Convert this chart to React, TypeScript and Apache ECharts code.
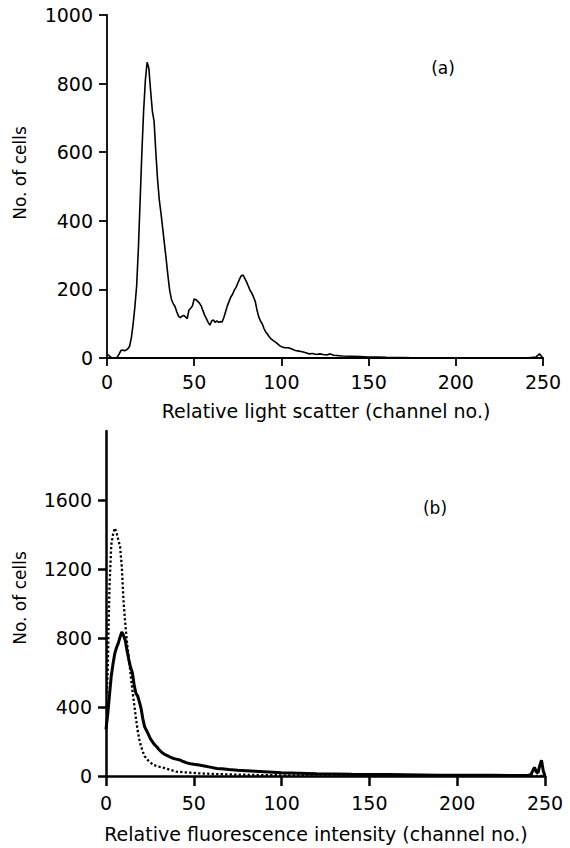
import React, { useEffect, useRef } from "react";
import * as echarts from "echarts";

// (a) light scatter histogram
const scatterChannels = [0,1,2,3,5,6,7,8,9,10,11,12,13,14,15,16,17,18,19,20,21,22,23,24,25,26,27,28,29,30,31,32,33,34,35,36,37,38,39,40,41,42,43,44,45,46,47,48,49,50,51,52,53,54,55,56,57,58,59,60,61,62,63,64,65,66,67,68,69,70,71,72,73,74,75,76,77,78,79,80,81,82,83,84,85,86,87,88,89,90,91,92,93,94,95,97,99,100,102,104,106,108,110,112,114,116,118,120,122,124,126,128,130,135,140,145,150,155,160,170,180,240,246,248,249,250];
const scatterCounts = [10,8,3,0,0,3,12,22,23,21,23,27,35,60,100,150,210,320,460,600,720,810,862,845,780,720,690,600,520,460,420,375,330,285,237,195,170,158,150,135,122,118,122,124,120,115,140,145,152,172,170,165,160,152,138,125,115,104,96,108,111,104,108,104,106,105,118,135,152,165,178,186,198,206,218,230,240,242,232,222,210,198,189,178,165,140,120,108,100,86,76,70,62,56,52,45,36,33,30,30,26,22,20,18,15,12,13,10,12,10,9,12,8,6,5,4,3,3,2,1,0,0,3,12,6,0];

// (b) fluorescence histograms
const solidChannels = [0,1,2,3,4,5,6,7,8,9,10,11,12,13,14,15,16,17,18,19,20,21,22,23,24,25,26,27,28,29,30,32,34,36,38,40,42,44,46,48,50,53,56,60,63,66,70,75,80,85,90,95,100,110,120,130,140,150,160,170,180,190,200,210,220,230,240,242,243,244,245,246,247,248,249,250];
const solidCounts = [270,360,470,580,650,710,745,770,805,835,815,785,725,675,630,600,530,480,465,430,390,330,285,265,245,222,205,190,178,168,155,135,122,112,103,98,93,84,76,71,68,64,58,50,44,42,38,34,31,28,25,22,19,16,13,12,10,9,8,7,6,5,5,4,4,3,3,8,30,50,25,18,60,92,30,0];

const dottedChannels = [0.5,1,1.5,2,3,4,5,6,7,8,9,10,11,12,13,14,15,16,17,18,19,20,21,22,24,27,30,34,40,44,48,52,56,60,70,80,90,100,120,150,200,250];
const dottedCounts = [480,620,880,1100,1340,1400,1437,1410,1370,1330,1214,1010,880,770,680,590,500,420,340,265,210,170,140,115,90,64,55,44,25,22,19,16,14,12,9,7,5,4,3,2,1,0];

const yTicksB = [0, 400, 800, 1200, 1600];

const FONT = "DejaVu Sans";

function pairs(xs: number[], ys: number[]) {
  return xs.map((x, i) => [x, ys[i]]);
}

export default function App() {
  const ref = useRef<HTMLDivElement>(null);
  useEffect(() => {
    if (!ref.current) return;
    const chart = echarts.init(ref.current, null, { renderer: "svg" });
    const labelStyle = { fontSize: 19, fontFamily: FONT, color: "#000" };
    const plain = (v: number) => String(v);
    const option: any = {
      animation: false,
      backgroundColor: "#ffffff",
      grid: [
        { left: 107, top: 15, width: 436, height: 343, outerBoundsMode: "none" },
        { left: 106, top: 431, width: 439, height: 345, outerBoundsMode: "none" },
      ],
      xAxis: [
        {
          gridIndex: 0, type: "value", min: 0, max: 250, interval: 50,
          axisLine: { show: true, lineStyle: { color: "#000", width: 1.8 } },
          axisTick: { show: true, length: 8, lineStyle: { color: "#000", width: 1.8 } },
          axisLabel: { ...labelStyle, margin: 14, formatter: plain },
          splitLine: { show: false },
        },
        {
          gridIndex: 1, type: "value", min: 0, max: 250, interval: 50,
          axisLine: { show: true, lineStyle: { color: "#000", width: 2.5 } },
          axisTick: { show: true, length: 10, lineStyle: { color: "#000", width: 2.5 } },
          axisLabel: { ...labelStyle, margin: 17, formatter: plain },
          splitLine: { show: false },
        },
      ],
      yAxis: [
        {
          gridIndex: 0, type: "value", min: 0, max: 1000, interval: 200,
          axisLine: { show: true, lineStyle: { color: "#000", width: 1.8 } },
          axisTick: { show: true, length: 8, lineStyle: { color: "#000", width: 1.8 } },
          axisLabel: { ...labelStyle, margin: 14, formatter: plain },
          splitLine: { show: false },
        },
        {
          gridIndex: 1, type: "value", min: 0, max: 2000, interval: 400,
          axisLine: { show: true, lineStyle: { color: "#000", width: 2.5 } },
          axisTick: { show: true, length: 8, lineStyle: { color: "#000", width: 2.5 }, customValues: yTicksB },
          axisLabel: { ...labelStyle, margin: 14, formatter: (v: number) => (v >= 2000 ? "" : String(v)) },
          splitLine: { show: false },
        },
      ],
      series: [
        {
          type: "line", xAxisIndex: 0, yAxisIndex: 0, showSymbol: false,
          data: pairs(scatterChannels, scatterCounts),
          lineStyle: { color: "#000", width: 1.6 },
          itemStyle: { color: "#000" },
        },
        {
          type: "line", xAxisIndex: 1, yAxisIndex: 1, showSymbol: false,
          data: pairs(dottedChannels, dottedCounts),
          lineStyle: { color: "#000", width: 2.3, type: [2.3, 2.2] },
          itemStyle: { color: "#000" },
        },
        {
          type: "line", xAxisIndex: 1, yAxisIndex: 1, showSymbol: false,
          data: pairs(solidChannels, solidCounts),
          lineStyle: { color: "#000", width: 3 },
          itemStyle: { color: "#000" },
        },
      ],
      graphic: [
        { type: "text", x: 20, y: 173, rotation: Math.PI / 2, style: { text: "No. of cells", fontSize: 17, fontFamily: FONT, fill: "#000", textAlign: "center", textVerticalAlign: "middle" } },
        { type: "text", x: 20, y: 598, rotation: Math.PI / 2, style: { text: "No. of cells", fontSize: 17, fontFamily: FONT, fill: "#000", textAlign: "center", textVerticalAlign: "middle" } },
        { type: "text", x: 326, y: 411, style: { text: "Relative light scatter (channel no.)", fontSize: 19, fontFamily: FONT, fill: "#000", textAlign: "center", textVerticalAlign: "middle" } },
        { type: "text", x: 316, y: 834, style: { text: "Relative fluorescence intensity (channel no.)", fontSize: 19, fontFamily: FONT, fill: "#000", textAlign: "center", textVerticalAlign: "middle" } },
        { type: "text", x: 443, y: 68, style: { text: "(a)", fontSize: 17, fontFamily: FONT, fill: "#000", textAlign: "center", textVerticalAlign: "middle" } },
        { type: "text", x: 435, y: 508, style: { text: "(b)", fontSize: 17, fontFamily: FONT, fill: "#000", textAlign: "center", textVerticalAlign: "middle" } },
      ],
    };
    chart.setOption(option);
    return () => chart.dispose();
  }, []);
  return (
    <div
      ref={ref}
      style={{ position: "absolute", left: 0, top: 0, width: 570, height: 848, background: "#fff" }}
    />
  );
}
